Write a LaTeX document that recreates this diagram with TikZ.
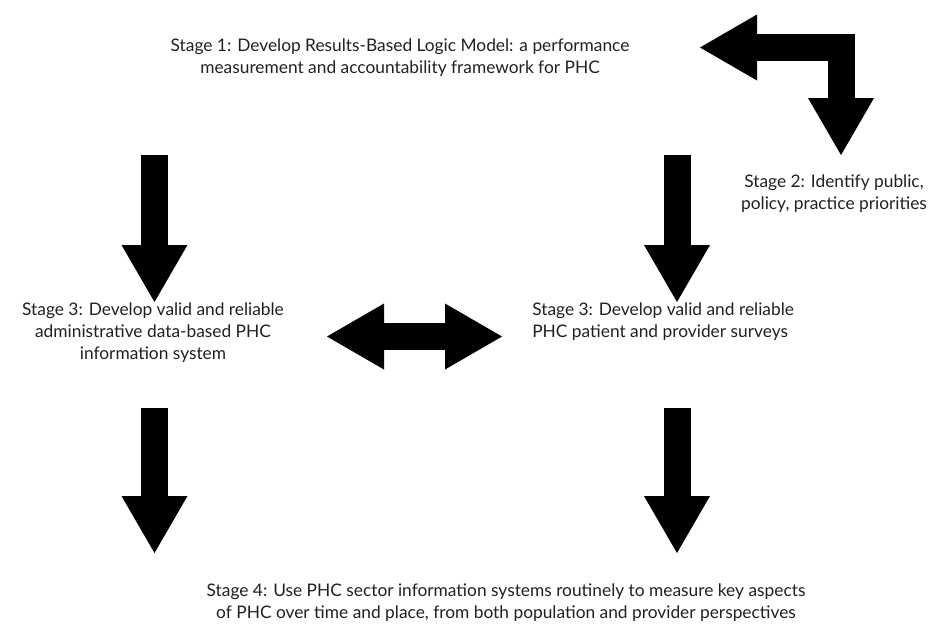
\documentclass[tikz,border=0pt]{standalone}
\usepackage{fontspec}
\setmainfont{Lato}
\usetikzlibrary{arrows.meta}
\definecolor{PhcText}{RGB}{35,31,32}
\tikzset{
  phc/stage/.style={
    align=center,
    text=PhcText,
    inner sep=0pt,
    font=\fontsize{13}{16.5}\selectfont
  },
  phc/block/.style={
    draw=black,
    line width=20.25pt,
    line join=miter
  },
  phc/arrow/.style={phc/block, -{Triangle[length=42.75pt,width=49.5pt,line width=0pt]}},
  phc/twoway/.style={phc/block, {Triangle[length=42.75pt,width=49.5pt,line width=0pt]}-{Triangle[length=42.75pt,width=49.5pt,line width=0pt]}}
}
\begin{document}
\begin{tikzpicture}[x=0.75pt,y=-0.75pt]
  \useasboundingbox (0,0) rectangle (944,636);
  \node[phc/stage] (stageone) at (400,58) {Stage 1: Develop Results-Based Logic Model: a performance\\measurement and accountability framework for PHC};
  \node[phc/stage] (stagetwo) at (834,194) {Stage 2: Identify public,\\policy, practice priorities};
  \node[phc/stage] (admin) at (153,333) {Stage 3: Develop valid and reliable\\administrative data-based PHC\\information system};
  \node[phc/stage,align=left,anchor=west] (surveys) at (532,322) {Stage 3: Develop valid and reliable\\PHC patient and provider surveys};
  \node[phc/stage] (stagefour) at (506,603) {Stage 4: Use PHC sector information systems routinely to measure key aspects\\of PHC over time and place, from both population and provider perspectives};

  \coordinate (bendtip) at (700,47.5);
  \coordinate (bendcorner) at (841,47.5);
  \coordinate (bendend) at (841,155);
  \coordinate (adminin) at (154.5,155);
  \coordinate (adminhead) at (154.5,302);
  \coordinate (surveyin) at (677,155);
  \coordinate (surveyhead) at (677,302);
  \coordinate (linkleft) at (327,336.5);
  \coordinate (linkright) at (502,336.5);
  \coordinate (adminout) at (154.5,408);
  \coordinate (adminfour) at (154.5,553);
  \coordinate (surveyout) at (677,408);
  \coordinate (surveyfour) at (677,553);

  \draw[phc/twoway] (bendtip) -- (bendcorner) -- (bendend);
  \draw[phc/arrow] (adminin) -- (adminhead);
  \draw[phc/arrow] (surveyin) -- (surveyhead);
  \draw[phc/twoway] (linkleft) -- (linkright);
  \draw[phc/arrow] (adminout) -- (adminfour);
  \draw[phc/arrow] (surveyout) -- (surveyfour);
\end{tikzpicture}
\end{document}
